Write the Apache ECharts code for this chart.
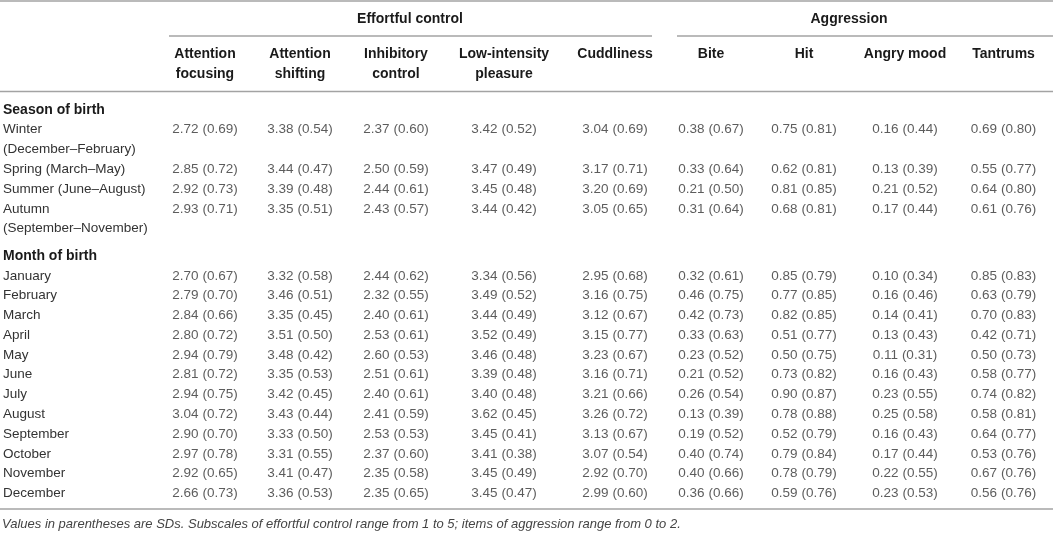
<!DOCTYPE html>
<html>
<head>
<meta charset="utf-8">
<script src="https://cdn.jsdelivr.net/npm/echarts@6/dist/echarts.min.js"></script>
<style>
	html, body { margin: 0; padding: 0; background: #fff; }
	#main { width: 1053px; height: 533px; }
</style>
</head>
<body>
<div id="main"></div>
<script>
// column headers
var headers = ['Attention\nfocusing', 'Attention\nshifting', 'Inhibitory\ncontrol', 'Low-intensity\npleasure', 'Cuddliness',
	'Bite', 'Hit', 'Angry mood', 'Tantrums'];

// row labels of the two blocks
var seasonRows = ['Season of birth', 'Winter', '(December–February)', 'Spring (March–May)', 'Summer (June–August)',
	'Autumn', '(September–November)'];
var seasons = ['Winter', 'Spring (March–May)', 'Summer (June–August)', 'Autumn'];
var monthRows = ['Month of birth', 'January', 'February', 'March', 'April', 'May', 'June', 'July', 'August',
	'September', 'October', 'November', 'December'];
var months = monthRows.slice(1);

// mean, SD : 4 seasons then 12 months
var attentionFocusing = [[2.72, 0.69], [2.85, 0.72], [2.92, 0.73], [2.93, 0.71],
	[2.70, 0.67], [2.79, 0.70], [2.84, 0.66], [2.80, 0.72], [2.94, 0.79], [2.81, 0.72],
	[2.94, 0.75], [3.04, 0.72], [2.90, 0.70], [2.97, 0.78], [2.92, 0.65], [2.66, 0.73]];
var attentionShifting = [[3.38, 0.54], [3.44, 0.47], [3.39, 0.48], [3.35, 0.51],
	[3.32, 0.58], [3.46, 0.51], [3.35, 0.45], [3.51, 0.50], [3.48, 0.42], [3.35, 0.53],
	[3.42, 0.45], [3.43, 0.44], [3.33, 0.50], [3.31, 0.55], [3.41, 0.47], [3.36, 0.53]];
var inhibitoryControl = [[2.37, 0.60], [2.50, 0.59], [2.44, 0.61], [2.43, 0.57],
	[2.44, 0.62], [2.32, 0.55], [2.40, 0.61], [2.53, 0.61], [2.60, 0.53], [2.51, 0.61],
	[2.40, 0.61], [2.41, 0.59], [2.53, 0.53], [2.37, 0.60], [2.35, 0.58], [2.35, 0.65]];
var lowIntensityPleasure = [[3.42, 0.52], [3.47, 0.49], [3.45, 0.48], [3.44, 0.42],
	[3.34, 0.56], [3.49, 0.52], [3.44, 0.49], [3.52, 0.49], [3.46, 0.48], [3.39, 0.48],
	[3.40, 0.48], [3.62, 0.45], [3.45, 0.41], [3.41, 0.38], [3.45, 0.49], [3.45, 0.47]];
var cuddliness = [[3.04, 0.69], [3.17, 0.71], [3.20, 0.69], [3.05, 0.65],
	[2.95, 0.68], [3.16, 0.75], [3.12, 0.67], [3.15, 0.77], [3.23, 0.67], [3.16, 0.71],
	[3.21, 0.66], [3.26, 0.72], [3.13, 0.67], [3.07, 0.54], [2.92, 0.70], [2.99, 0.60]];
var bite = [[0.38, 0.67], [0.33, 0.64], [0.21, 0.50], [0.31, 0.64],
	[0.32, 0.61], [0.46, 0.75], [0.42, 0.73], [0.33, 0.63], [0.23, 0.52], [0.21, 0.52],
	[0.26, 0.54], [0.13, 0.39], [0.19, 0.52], [0.40, 0.74], [0.40, 0.66], [0.36, 0.66]];
var hit = [[0.75, 0.81], [0.62, 0.81], [0.81, 0.85], [0.68, 0.81],
	[0.85, 0.79], [0.77, 0.85], [0.82, 0.85], [0.51, 0.77], [0.50, 0.75], [0.73, 0.82],
	[0.90, 0.87], [0.78, 0.88], [0.52, 0.79], [0.79, 0.84], [0.78, 0.79], [0.59, 0.76]];
var angryMood = [[0.16, 0.44], [0.13, 0.39], [0.21, 0.52], [0.17, 0.44],
	[0.10, 0.34], [0.16, 0.46], [0.14, 0.41], [0.13, 0.43], [0.11, 0.31], [0.16, 0.43],
	[0.23, 0.55], [0.25, 0.58], [0.16, 0.43], [0.17, 0.44], [0.22, 0.55], [0.23, 0.53]];
var tantrums = [[0.69, 0.80], [0.55, 0.77], [0.64, 0.80], [0.61, 0.76],
	[0.85, 0.83], [0.63, 0.79], [0.70, 0.83], [0.42, 0.71], [0.50, 0.73], [0.58, 0.77],
	[0.74, 0.82], [0.58, 0.81], [0.64, 0.77], [0.53, 0.76], [0.67, 0.76], [0.56, 0.76]];

var columns = [attentionFocusing, attentionShifting, inhibitoryControl, lowIntensityPleasure, cuddliness,
	bite, hit, angryMood, tantrums];

var footnote = 'Values in parentheses are SDs. Subscales of effortful control range from 1 to 5; items of aggression range from 0 to 2.';

(function() {
	var myChart = echarts.init(document.getElementById('main'));
	var font = 'Liberation Sans, Arial, sans-serif';
	var lineColor = '#a3a3a3';

	// layout
	var colCenters = [205, 300, 396, 504, 615, 711, 804, 905, 1004];
	var colWidth = 100;
	var blocks = [
		{ rows: seasonRows, keys: seasons, offset: 0, top: 100, height: 138.6 },
		{ rows: monthRows, keys: months, offset: 4, top: 246.1, height: 257.3 }
	];

	var grid = [], xAxis = [], yAxis = [], series = [];

	blocks.forEach(function(b, bi) {
		// row label column
		var gi = grid.length;
		grid.push({ left: 2, top: b.top, width: 150, height: b.height });
		xAxis.push({ type: 'category', gridIndex: gi, data: [''], show: false });
		yAxis.push({
			type: 'category', gridIndex: gi, inverse: true, data: b.rows,
			axisLine: { show: false }, axisTick: { show: false }, splitLine: { show: false },
			axisLabel: {
				inside: true, align: 'left', margin: 0,
				fontFamily: font, fontSize: 13.5, color: '#333',
				formatter: function(v, i) { return i === 0 ? '{b|' + v + '}' : v; },
				rich: { b: { fontFamily: font, fontSize: 14, fontWeight: 'bold', color: '#1a1a1a' } }
			}
		});
		series.push({ type: 'scatter', xAxisIndex: gi, yAxisIndex: gi, data: [] });

		// value columns
		headers.forEach(function(h, ci) {
			var gi = grid.length;
			grid.push({ left: colCenters[ci] - colWidth / 2, top: b.top, width: colWidth, height: b.height });
			xAxis.push({
				type: 'category', gridIndex: gi, position: 'top', data: [h],
				axisLine: { show: false }, axisTick: { show: false }, splitLine: { show: false },
				axisLabel: {
					show: bi === 0, verticalAlign: 'top', margin: b.top - 44, lineHeight: 20,
					fontFamily: font, fontSize: 14, fontWeight: 'bold', color: '#1a1a1a'
				}
			});
			yAxis.push({ type: 'category', gridIndex: gi, inverse: true, data: b.rows, show: false });
			series.push({
				type: 'scatter', xAxisIndex: gi, yAxisIndex: gi, symbolSize: 0, silent: true,
				label: {
					show: true, position: 'inside', fontFamily: font, fontSize: 13.5, color: '#333',
					formatter: function(p) { return p.value[2].toFixed(2) + ' (' + p.value[3].toFixed(2) + ')'; }
				},
				data: b.keys.map(function(k, ri) {
					var v = columns[ci][b.offset + ri];
					return [h, k, v[0], v[1]];
				})
			});
		});
	});

	function hline(x1, x2, y) {
		return { type: 'line', shape: { x1: x1, y1: y, x2: x2, y2: y }, style: { stroke: lineColor, lineWidth: 1.5 } };
	}

	option = {
		animation: false,
		grid: grid,
		xAxis: xAxis,
		yAxis: yAxis,
		series: series,
		graphic: [
			hline(0, 1053, 1),
			hline(169, 652, 36),
			hline(677, 1053, 36),
			hline(0, 1053, 91.5),
			hline(0, 1053, 509),
			{ type: 'text', x: 410, y: 19.5, style: { text: 'Effortful control', font: 'bold 14px ' + font, fill: '#1a1a1a', textAlign: 'center', textVerticalAlign: 'middle' } },
			{ type: 'text', x: 849, y: 19.5, style: { text: 'Aggression', font: 'bold 14px ' + font, fill: '#1a1a1a', textAlign: 'center', textVerticalAlign: 'middle' } },
			{ type: 'text', x: 2, y: 524.5, style: { text: footnote, font: 'italic 13px ' + font, fill: '#444', textVerticalAlign: 'middle' } }
		]
	};

	myChart.setOption(option);
})();
</script>
</body>
</html>
